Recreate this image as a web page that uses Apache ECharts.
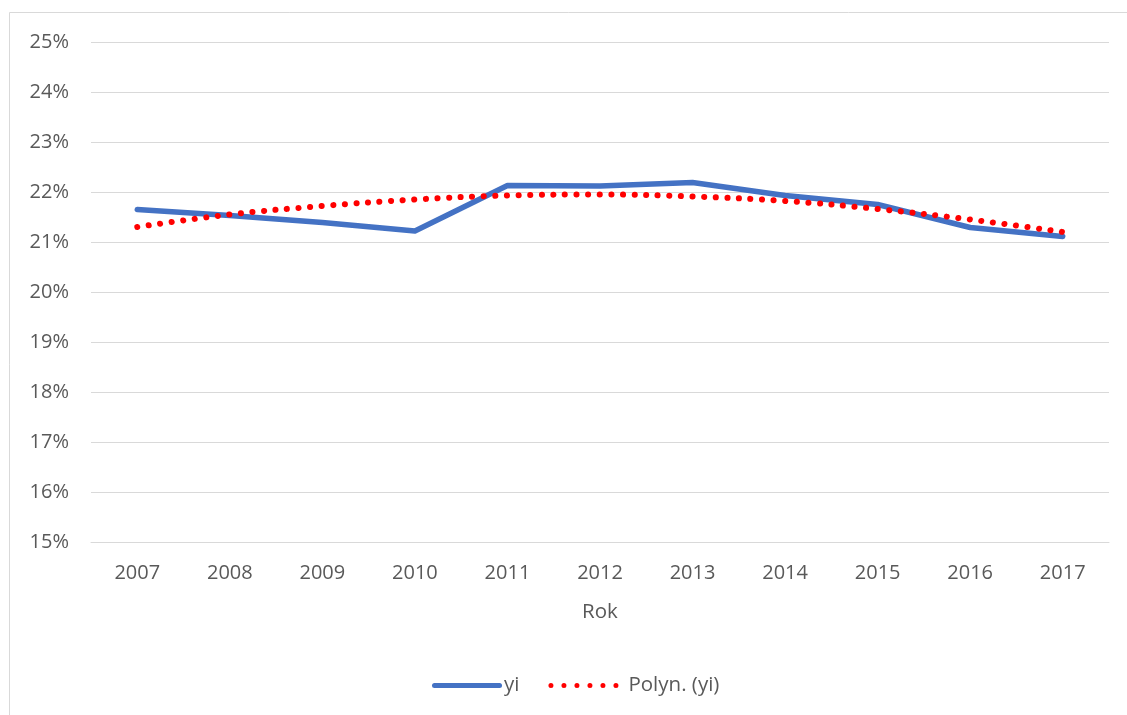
<!DOCTYPE html>
<html>
<head>
<meta charset="utf-8">
<script src="https://cdn.jsdelivr.net/npm/echarts@6/dist/echarts.min.js"></script>
<style>
  html, body { margin: 0; padding: 0; background: #fff; }
  #chart { width: 1127px; height: 715px; }
</style>
</head>
<body>
<div id="chart"></div>
<script>
// lata (oś X)
const years = ["2007", "2008", "2009", "2010", "2011", "2012", "2013", "2014", "2015", "2016", "2017"];
// yi w %
const yiValues = [21.65, 21.53, 21.39, 21.22, 22.13, 22.12, 22.19, 21.93, 21.75, 21.29, 21.11];
// trend wielomianowy
const polyValues = [21.30, 21.55, 21.72, 21.85, 21.93, 21.95, 21.91, 21.82, 21.66, 21.45, 21.20];

const textColor = "#595959";
const gridColor = "#d9d9d9";
const fontFamily = "'Open Sans', 'Liberation Sans', sans-serif";

// ikonki legendy (linia ciągła i kropki)
const solidIcon = "path://M2.5,0 L67.5,0 A2.5,2.5 0 0 1 67.5,5 L2.5,5 A2.5,2.5 0 0 1 2.5,0 Z";
let dotIcon = "path://";
for (let i = 0; i < 6; i++) {
  const cx = 2.5 + i * 13;
  dotIcon += "M" + (cx - 2.5) + ",2.5 A2.5,2.5 0 1 0 " + (cx + 2.5) + ",2.5 A2.5,2.5 0 1 0 " + (cx - 2.5) + ",2.5 Z ";
}

const myChart = echarts.init(document.getElementById("chart"), null, { renderer: "canvas" });

myChart.setOption({
  animation: false,
  backgroundColor: "#fff",
  graphic: [
    {
      type: "rect",
      shape: { x: 9.5, y: 12.5, width: 1300, height: 900 },
      style: { fill: "none", stroke: gridColor, lineWidth: 1 },
      silent: true,
    },
  ],
  grid: {
    left: 91,
    right: 18,
    top: 42,
    bottom: 173,
    containLabel: false,
  },
  legend: {
    bottom: 14,
    left: 427,
    padding: 5,
    itemWidth: 70,
    itemHeight: 5,
    itemGap: 29,
    textStyle: { color: textColor, fontSize: 20.5, fontFamily: fontFamily },
    data: [
      {
        name: "yi",
        icon: solidIcon,
        itemStyle: { color: "#4472c4" },
        textStyle: { padding: [0, 0, 0, -3] },
      },
      {
        name: "Polyn. (yi)",
        icon: dotIcon,
        itemStyle: { color: "#ff0000" },
        textStyle: { padding: [0, 0, 0, 5] },
      },
    ],
  },
  xAxis: {
    type: "category",
    data: years,
    boundaryGap: true,
    name: "Rok",
    nameLocation: "middle",
    nameGap: 60,
    nameTextStyle: { color: textColor, fontSize: 20.5, fontFamily: fontFamily },
    axisLine: { show: true, lineStyle: { color: gridColor, width: 1 } },
    axisTick: { show: false },
    axisLabel: { color: textColor, fontSize: 20, fontFamily: fontFamily, margin: 21 },
  },
  yAxis: {
    type: "value",
    min: 15,
    max: 25,
    interval: 1,
    axisLine: { show: false },
    axisTick: { show: false },
    axisLabel: {
      formatter: "{value}%",
      color: textColor,
      fontSize: 20,
      fontFamily: fontFamily,
      margin: 22,
    },
    splitLine: { lineStyle: { color: gridColor, width: 1 } },
  },
  series: [
    {
      name: "yi",
      type: "line",
      data: yiValues,
      symbol: "none",
      color: "#4472c4",
      lineStyle: { color: "#4472c4", width: 5.5, cap: "round", join: "round" },
    },
    {
      name: "Polyn. (yi)",
      type: "line",
      data: polyValues,
      symbol: "none",
      smooth: 0.4,
      color: "#ff0000",
      lineStyle: { color: "#ff0000", width: 6, type: [0.1, 11.5], cap: "round" },
    },
  ],
});
</script>
</body>
</html>
